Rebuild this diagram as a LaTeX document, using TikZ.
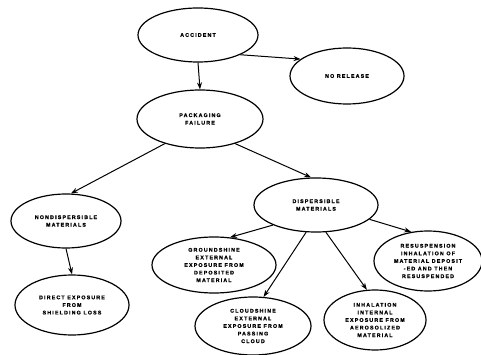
\documentclass[tikz,border=0pt]{standalone}
\usepackage{fontspec}
\newfontfamily\labfont[LetterSpace=22,FakeBold=1.2]{Liberation Sans}
\usetikzlibrary{shapes.geometric,arrows.meta}
\begin{document}
\begin{tikzpicture}[x=1pt,y=-1pt,
  ell/.style={ellipse,draw,line width=1.2pt,inner sep=0pt,align=center,
    font=\labfont\bfseries\fontsize{5.3}{7.6}\selectfont},
  arr/.style={line width=1pt,-{Stealth[length=7pt,width=5pt]}}]
\useasboundingbox (0,0) rectangle (481,355);
\node[ell,minimum width=120pt,minimum height=54pt] (acc) at (198,35) {ACCIDENT};
\node[ell,minimum width=114pt,minimum height=56pt] (nor) at (347,76) {NO RELEASE};
\node[ell,minimum width=126pt,minimum height=58pt] (pkg) at (200,119) {PACKAGING\\FAILURE};
\node[ell,minimum width=110pt,minimum height=54pt] (non) at (66,221) {NONDISPERSIBLE\\MATERIALS};
\node[ell,minimum width=114pt,minimum height=60pt] (dir) at (72,305) {DIRECT EXPOSURE\\FROM\\SHIELDING LOSS};
\node[ell,minimum width=124pt,minimum height=54pt] (dis) at (316,205) {DISPERSIBLE\\MATERIALS};
\node[ell,minimum width=124pt,minimum height=56pt] (grd) at (214,265) {GROUNDSHINE\\EXTERNAL\\EXPOSURE FROM\\DEPOSITED\\MATERIAL};
\node[ell,minimum width=108pt,minimum height=60pt] (res) at (428,261) {RESUSPENSION\\INHALATION OF\\MATERIAL DEPOSIT\\-ED AND THEN\\RESUSPENDED};
\node[ell,minimum width=116pt,minimum height=58pt] (cld) at (253,326) {CLOUDSHINE\\EXTERNAL\\EXPOSURE FROM\\PASSING\\CLOUD};
\node[ell,minimum width=102pt,minimum height=60pt] (inh) at (375,320) {INHALATION\\INTERNAL\\EXPOSURE FROM\\AEROSOLIZED\\MATERIAL};
\draw[arr] (acc.south) -- (pkg.north);
\draw[arr] (acc.-25) -- (nor.160);
\draw[arr] (pkg.215) -- (non.80);
\draw[arr] (pkg.-35) -- (dis.100);
\draw[arr] (non.south) -- (dir.north);
\draw[arr] (dis.205) -- (grd.60);
\draw[arr] (dis.250) -- (cld.70);
\draw[arr] (dis.290) -- (inh.105);
\draw[arr] (dis.-15) -- (res.120);
\end{tikzpicture}
\end{document}
